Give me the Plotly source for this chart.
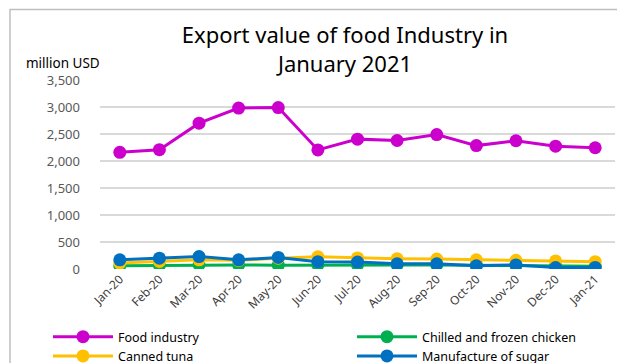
import plotly.graph_objects as go

months = ["Jan-20", "Feb-20", "Mar-20", "Apr-20", "May-20", "Jun-20", "Jul-20",
          "Aug-20", "Sep-20", "Oct-20", "Nov-20", "Dec-20", "Jan-21"]
food_industry = [2160, 2210, 2700, 2980, 2990, 2205, 2405, 2380, 2490, 2285, 2375, 2275, 2245]
chilled_chicken = [60, 65, 80, 75, 70, 75, 75, 75, 75, 70, 70, 55, 50]
canned_tuna = [110, 140, 170, 160, 200, 225, 205, 190, 185, 170, 160, 150, 135]
sugar = [170, 200, 230, 170, 215, 135, 130, 95, 95, 60, 75, 28, 30]

series = [
    ("Food industry", food_industry, "#CC00CC", "legend"),
    ("Chilled and frozen chicken", chilled_chicken, "#00B050", "legend2"),
    ("Canned tuna", canned_tuna, "#FFC000", "legend"),
    ("Manufacture of sugar", sugar, "#0070C0", "legend2"),
]

FONT = "Noto Sans"
fig = go.Figure()
for name, vals, color, lg in series:
    fig.add_trace(go.Scatter(
        x=months, y=vals, name=name, mode="lines+markers",
        line=dict(color=color, width=3),
        marker=dict(color=color, size=13),
        legend=lg,
    ))

leg_common = dict(orientation="v", yref="container", xref="container",
                  yanchor="top", xanchor="left", y=1 - 322 / 363,
                  font=dict(family=FONT, size=12.5, color="#000000"),
                  tracegroupgap=0, bgcolor="rgba(0,0,0,0)", itemwidth=60)

fig.update_layout(
    width=617, height=363,
    margin=dict(l=100, r=2, t=80, b=94, autoexpand=False),
    paper_bgcolor="white", plot_bgcolor="white",
    font=dict(family=FONT, color="#595959", size=12),
    title=dict(text="Export value of food Industry in<br>January 2021",
               x=345 / 617, xanchor="center", xref="container", yref="container",
               y=1 - 43 / 363, yanchor="top",
               font=dict(family=FONT, size=22, color="#000000")),
    xaxis=dict(type="category", tickangle=-45, showgrid=False, showline=False,
               ticks="", tickfont=dict(size=12, color="#404040"),
               range=[-0.5, 12.5], automargin=False),
    yaxis=dict(range=[0, 3500], dtick=500, tickformat=",", showgrid=True,
               gridcolor="#D9D9D9", gridwidth=1.5, zeroline=False, showline=False,
               ticks="", tickfont=dict(size=13, color="#595959"), ticklabelstandoff=19,
               automargin=False),
    legend=dict(x=48 / 617, **leg_common),
    legend2=dict(x=352 / 617, **leg_common),
    showlegend=True,
)

fig.add_annotation(text="million USD", xref="paper", yref="paper",
                   x=(24 - 100) / 515, y=(269 - 63) / 189, xanchor="left", yanchor="middle",
                   showarrow=False, font=dict(family=FONT, size=13.5, color="#000000"))

fig.add_shape(type="rect", xref="paper", yref="paper",
              x0=(10 - 100) / 515, x1=1.2, y0=-1.0, y1=(269 - 9.5) / 189,
              line=dict(color="#BFBFBF", width=1.5), layer="below")

fig.write_html("out.html")
